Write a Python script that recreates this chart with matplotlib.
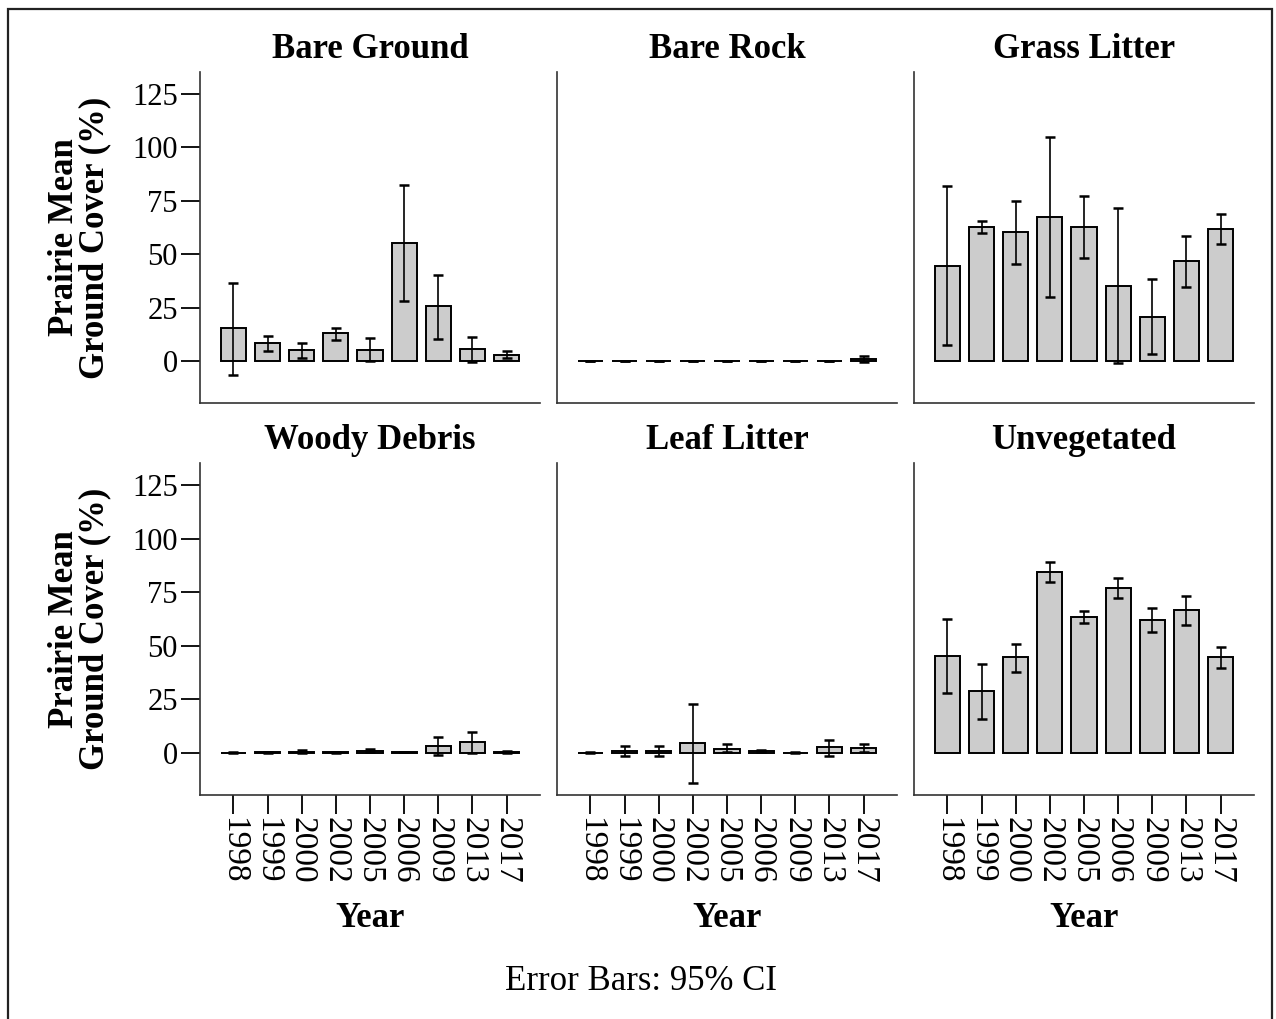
import numpy as np
import matplotlib
matplotlib.use("Agg")
import matplotlib.pyplot as plt
from matplotlib.patches import Rectangle

plt.rcParams['font.family'] = ['Liberation Serif', 'DejaVu Serif']

years = ['1998', '1999', '2000', '2002', '2005', '2006', '2009', '2013', '2017']

# mean cover and 95% CI bounds per cover type
bare_ground = [15.2, 8.4, 5.2, 13.0, 5.3, 55.4, 25.5, 5.5, 2.8]
bare_ground_lo = [-6.8, 4.5, 1.3, 10.0, -0.1, 28.1, 10.5, -0.5, 1.3]
bare_ground_hi = [36.7, 11.9, 8.4, 15.6, 10.8, 82.4, 40.3, 11.2, 4.5]

bare_rock = [0.0, 0.0, 0.0, 0.0, 0.0, 0.0, 0.0, 0.0, 0.8]
bare_rock_lo = [-0.2, -0.2, -0.2, -0.2, 0.0, 0.0, 0.0, -0.2, -0.4]
bare_rock_hi = [0.2, 0.2, 0.2, 0.2, 0.0, 0.0, 0.0, 0.2, 2.2]

grass_litter = [44.5, 62.7, 60.3, 67.6, 62.7, 35.3, 20.8, 46.8, 61.8]
grass_litter_lo = [7.3, 59.8, 45.3, 30.1, 48.2, -0.9, 3.1, 34.8, 54.8]
grass_litter_hi = [81.8, 65.4, 75.1, 104.9, 77.1, 71.8, 38.2, 58.5, 68.7]

woody_debris = [0.1, 0.2, 0.5, 0.2, 1.0, 0.4, 3.3, 5.0, 0.4]
woody_debris_lo = [0.0, 0.0, -0.3, 0.0, 0.4, 0.2, -1.1, 0.0, 0.1]
woody_debris_hi = [0.2, 0.4, 1.3, 0.4, 1.7, 0.6, 7.2, 9.8, 0.7]

leaf_litter = [0.1, 0.8, 0.8, 4.5, 2.0, 1.0, 0.1, 2.6, 2.2]
leaf_litter_lo = [0.0, -1.4, -1.4, -14.2, 0.3, 0.5, 0.0, -1.4, 0.4]
leaf_litter_hi = [0.2, 3.0, 3.0, 22.8, 3.9, 1.5, 0.2, 6.2, 4.0]

unvegetated = [45.2, 28.8, 44.5, 84.6, 63.5, 77.0, 62.1, 66.5, 44.5]
unvegetated_lo = [27.9, 15.9, 37.8, 79.9, 60.8, 72.4, 56.3, 59.5, 39.5]
unvegetated_hi = [62.4, 41.5, 50.7, 88.9, 66.1, 81.7, 67.4, 73.3, 49.3]

panels = [
    ('Bare Ground', bare_ground, bare_ground_lo, bare_ground_hi),
    ('Bare Rock', bare_rock, bare_rock_lo, bare_rock_hi),
    ('Grass Litter', grass_litter, grass_litter_lo, grass_litter_hi),
    ('Woody Debris', woody_debris, woody_debris_lo, woody_debris_hi),
    ('Leaf Litter', leaf_litter, leaf_litter_lo, leaf_litter_hi),
    ('Unvegetated', unvegetated, unvegetated_lo, unvegetated_hi),
]

W, H = 1276, 1019
FS = 22


def px_axes(fig, left, top, right, bottom):
    # axes from pixel box (origin top-left)
    return fig.add_axes([left / W, 1 - bottom / H, (right - left) / W, (bottom - top) / H])


def draw_panel(ax, title, mean, lo, hi, show_y, show_x):
    x = np.arange(len(years))
    mean = np.asarray(mean, dtype=float)
    err = np.vstack([mean - np.asarray(lo), np.asarray(hi) - mean])
    ax.bar(x, mean, width=0.74, color='#cccccc', edgecolor='black', linewidth=1.4, zorder=2)
    ax.errorbar(x, mean, yerr=err, fmt='none', ecolor='black', elinewidth=1.2,
                capsize=3.3, capthick=1.8, zorder=3)

    ax.set_xlim(-0.98, 8.98)
    ax.set_ylim(-19.7, 135.3)
    for s in ['top', 'right']:
        ax.spines[s].set_visible(False)
    for s in ['left', 'bottom']:
        ax.spines[s].set_color('#333333')
        ax.spines[s].set_linewidth(1.2)

    ax.set_title(title, fontsize=25, fontweight='bold', pad=10)
    ax.set_yticks([0, 25, 50, 75, 100, 125])
    ax.set_xticks(x)
    ax.tick_params(axis='both', length=14, width=1.3, color='black', labelsize=FS, pad=2)
    if show_y:
        ax.set_ylabel('Prairie Mean\nGround Cover (%)', fontsize=25, fontweight='bold',
                      linespacing=0.9, labelpad=15)
    else:
        ax.tick_params(axis='y', left=False, labelleft=False)
    if show_x:
        ax.set_xticklabels(years, rotation=270, fontsize=24)
        ax.set_xlabel('Year', fontsize=25, fontweight='bold', labelpad=13)
    else:
        ax.tick_params(axis='x', bottom=False, labelbottom=False)


fig = plt.figure(figsize=(W / 100, H / 100), dpi=100)

lefts = [200, 557, 914]
rows = [(72, 403), (463, 795)]
for i, (title, mean, lo, hi) in enumerate(panels):
    r, c = divmod(i, 3)
    top, bottom = rows[r]
    ax = px_axes(fig, lefts[c], top, lefts[c] + 340, bottom)
    draw_panel(ax, title, mean, lo, hi, show_y=(c == 0), show_x=(r == 1))

fig.text(641 / W, 1 - 982 / H, 'Error Bars: 95% CI', fontsize=25, ha='center', va='center')

# outer frame, open at the bottom edge
fig.patches.append(Rectangle((8 / W, -0.05), (1272 - 8) / W, 1.05 - 9 / H,
                             transform=fig.transFigure, fill=False,
                             edgecolor='#222222', linewidth=1.6))

fig.savefig('out.png', dpi=100)
